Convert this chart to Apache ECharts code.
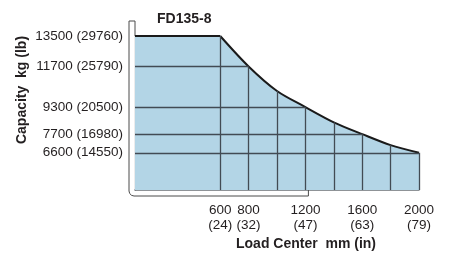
<!DOCTYPE html>
<html>
<head>
<meta charset="UTF-8">
<title>FD135-8</title>
<script src="https://cdn.jsdelivr.net/npm/echarts@6/dist/echarts.min.js"></script>
<style>
  html, body { margin: 0; padding: 0; background: #fff; }
  #myChart { width: 464px; height: 254px; }
</style>
</head>
<body>
<div id="myChart"></div>
<script>
// load centre (mm) and rated capacity (kg)
var loadCenters = [0, 600, 800, 1000, 1200, 1400, 1600, 1800, 2000];
var capacity = [13500, 13500, 11700, 10250, 9300, 8400, 7700, 7050, 6600];

// tick labels
var yTicksKg = [6600, 7700, 9300, 11700, 13500];
var yTicksLb = [14550, 16980, 20500, 25790, 29760];
var xTicksMm = [600, 800, 1200, 1600, 2000];
var xTicksIn = [24, 32, 47, 63, 79];

var Y_MIN = 4400, Y_MAX = 13500;
var FONT = 'Arial, "Liberation Sans", Helvetica, sans-serif';
var GRID_COLOR = '#424b54';

var chart = echarts.init(document.getElementById('myChart'));

// grid lines clipped to the area under the curve
function buildGridSegments() {
  var segs = [];
  for (var i = 0; i < loadCenters.length; i++) {
    if (loadCenters[i] >= 600) {
      segs.push([{ coord: [loadCenters[i], Y_MIN] }, { coord: [loadCenters[i], capacity[i]] }]);
    }
  }
  for (var j = 0; j < yTicksKg.length; j++) {
    var v = yTicksKg[j];
    if (v >= Y_MAX) continue;
    var idx = capacity.indexOf(v);
    segs.push([{ coord: [0, v] }, { coord: [loadCenters[idx], v] }]);
  }
  return segs;
}

// flat part up to 600 mm, then the falling curve
var flatData = [], curveData = [];
loadCenters.forEach(function(x, i) {
  if (x <= 600) flatData.push([x, capacity[i]]);
  if (x >= 600) curveData.push([x, capacity[i]]);
});

var lineStyle = { color: '#1a1a1a', width: 2 };
var areaStyle = { color: '#b3d5e6', opacity: 1 };

chart.setOption({
  animation: false,
  backgroundColor: '#fff',
  title: {
    text: 'FD135-8',
    left: 152,
    top: 7,
    textStyle: { fontFamily: FONT, fontSize: 14, fontWeight: 'bold', color: '#231f20' }
  },
  grid: { left: 135, right: 45, top: 36, bottom: 64 },
  xAxis: {
    type: 'value',
    min: 0,
    max: 2000,
    splitLine: { show: false },
    axisTick: { show: false },
    axisLine: { show: true, lineStyle: { color: '#6b7075', width: 1.5 } },
    axisLabel: {
      customValues: xTicksMm,
      margin: 13,
      fontFamily: FONT,
      fontSize: 13.5,
      lineHeight: 15,
      color: '#231f20',
      formatter: function(v) {
        var i = xTicksMm.indexOf(v);
        return v + '\n(' + xTicksIn[i] + ')';
      }
    }
  },
  yAxis: {
    type: 'value',
    min: Y_MIN,
    max: Y_MAX,
    splitLine: { show: false },
    axisTick: { show: false },
    axisLine: { show: true, lineStyle: { color: GRID_COLOR, width: 1.2 } },
    axisLabel: {
      customValues: yTicksKg,
      margin: 12,
      fontFamily: FONT,
      fontSize: 13.5,
      color: '#231f20',
      formatter: function(v) {
        var i = yTicksKg.indexOf(v);
        return v + ' (' + yTicksLb[i] + ')';
      }
    }
  },
  series: [{
    type: 'line',
    data: flatData,
    symbol: 'none',
    z: 3,
    lineStyle: lineStyle,
    areaStyle: areaStyle
  }, {
    type: 'line',
    data: curveData,
    smooth: 0.3,
    symbol: 'none',
    z: 3,
    lineStyle: lineStyle,
    areaStyle: areaStyle,
    markLine: {
      silent: true,
      symbol: ['none', 'none'],
      label: { show: false },
      lineStyle: { color: GRID_COLOR, width: 1.3, type: 'solid' },
      emphasis: { disabled: true },
      data: buildGridSegments()
    }
  }]
});

// bracket frame around the left and bottom of the plot, and axis titles
var pTopLeft = chart.convertToPixel({ gridIndex: 0 }, [0, Y_MAX]);
var pBotLeft = chart.convertToPixel({ gridIndex: 0 }, [0, Y_MIN]);
var pBotEnd = chart.convertToPixel({ gridIndex: 0 }, [1200, Y_MIN]);
var x0 = pTopLeft[0], yTop = pTopLeft[1] - 15, yBot = pBotLeft[1];
var xOut = x0 - 6, yOut = yBot + 6, xEnd = pBotEnd[0] + 3;
var framePts = [
  [x0, pTopLeft[1]], [x0, yTop], [xOut, yTop], [xOut, yOut - 5],
  [xOut + 0.7, yOut - 2.5], [xOut + 2.5, yOut - 0.7], [xOut + 5, yOut],
  [xEnd, yOut], [xEnd, yBot]
];

chart.setOption({
  graphic: [{
    type: 'polyline',
    shape: { points: framePts },
    style: { fill: null, stroke: '#4a4a4a', lineWidth: 1 },
    silent: true,
    z: 1
  }, {
    type: 'text',
    x: 22,
    y: 90,
    rotation: Math.PI / 2,
    style: {
      text: 'Capacity  kg (lb)',
      fontFamily: FONT,
      fontSize: 14,
      fontWeight: 'bold',
      fill: '#231f20',
      align: 'center',
      verticalAlign: 'middle'
    }
  }, {
    type: 'text',
    x: 306,
    y: 244,
    style: {
      text: 'Load Center  mm (in)',
      fontFamily: FONT,
      fontSize: 14,
      fontWeight: 'bold',
      fill: '#231f20',
      align: 'center',
      verticalAlign: 'middle'
    }
  }]
});
</script>
</body>
</html>
